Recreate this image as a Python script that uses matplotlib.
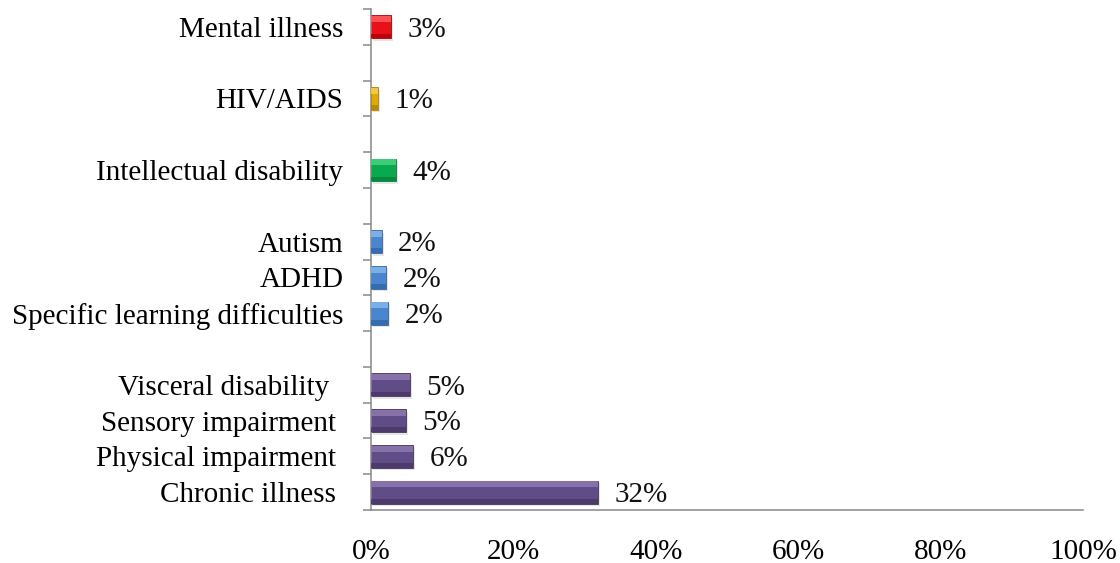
import numpy as np
import matplotlib.pyplot as plt
from matplotlib.ticker import FixedLocator, FuncFormatter

# Data (bottom to top); empty strings are the spacer rows
categories = ['Chronic illness ', 'Physical impairment ', 'Sensory impairment ',
              'Visceral disability  ', '', 'Specific learning difficulties',
              'ADHD', 'Autism', '', 'Intellectual disability', '', 'HIV/AIDS',
              '', 'Mental illness']
values = [31.9, 5.9, 4.9, 5.4, np.nan, 2.4, 2.1, 1.5, np.nan, 3.5, np.nan, 1.0,
          np.nan, 2.8]
labels = ['32%', '6%', '5%', '5%', '', '2%', '2%', '2%', '', '4%', '', '1%', '', '3%']
groups = ['purple', 'purple', 'purple', 'purple', None, 'blue', 'blue', 'blue',
          None, 'green', None, 'gold', None, 'red']
xticks = [0, 20, 40, 60, 80, 100]

# body, highlight, dark
palette = {
    'purple': ('#604C86', '#8D78B0', '#463663'),
    'blue': ('#4A86CF', '#86B6EC', '#2F66A8'),
    'green': ('#0AA94F', '#44D482', '#05803A'),
    'gold': ('#E2A900', '#F8CE48', '#B08400'),
    'red': ('#EA101A', '#FF6060', '#B00008'),
}

plt.rcParams['font.family'] = ['Liberation Serif', 'DejaVu Serif']
FS = 21

fig = plt.figure(figsize=(11.2, 5.63), dpi=100)
ax = fig.add_axes([0.3313, 0.0941, 0.6357, 0.8899])

pos = np.arange(len(categories))
h = 0.64
for y, v, g in zip(pos, values, groups):
    if g is None or np.isnan(v):
        continue
    body, light, dark = palette[g]
    # soft shadow
    ax.barh(y - 0.07, v, height=h, left=0.3, color='#000000', alpha=0.10, zorder=1)
    ax.barh(y, v, height=h, color=body, edgecolor=dark, linewidth=0.6, zorder=2)
    # top highlight band and bottom dark band
    ax.barh(y + h * 0.34, v, height=h * 0.26, color=light, alpha=0.85, zorder=3)
    ax.barh(y - h * 0.40, v, height=h * 0.2, color=dark, alpha=0.8, zorder=3)

for y, v, lab in zip(pos, values, labels):
    if lab:
        ax.text(v + 2.3, y - 0.08, lab, va='center', ha='left', fontsize=FS,
                color='#111111')

ax.set_xlim(0, 100)
ax.set_ylim(-0.5, len(categories) - 0.5)

ax.set_yticks(pos)
ax.set_yticklabels(categories, fontsize=FS)
ax.yaxis.set_minor_locator(FixedLocator(np.arange(-0.5, len(categories), 1.0)))
ax.tick_params(axis='y', which='major', length=0, pad=20)
ax.tick_params(axis='y', which='minor', length=6, color='#888888', width=1.1)

ax.set_xticks(xticks)
ax.xaxis.set_major_formatter(FuncFormatter(lambda x, p: f'{x:.0f}%'))
ax.tick_params(axis='x', length=0, pad=21, labelsize=FS)

for side in ['top', 'right']:
    ax.spines[side].set_visible(False)
for side in ['left', 'bottom']:
    ax.spines[side].set_color('#888888')
    ax.spines[side].set_linewidth(1.1)

fig.savefig('out.png', dpi=100)
